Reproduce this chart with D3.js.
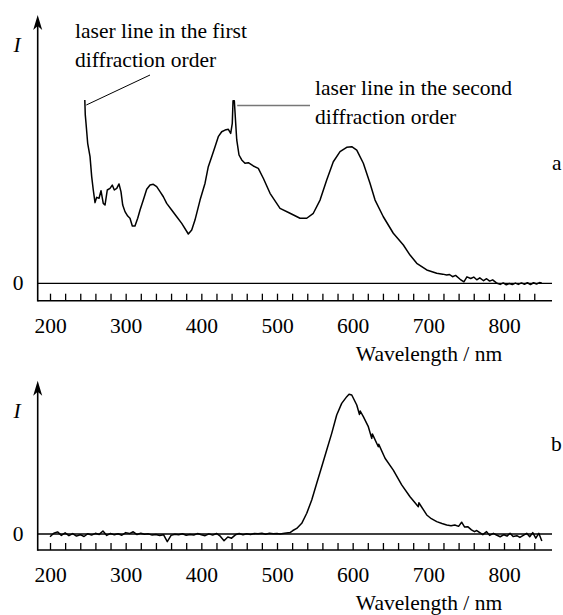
<!DOCTYPE html>
<html>
<head>
<meta charset="utf-8">
<script src="https://cdn.jsdelivr.net/npm/d3@7/dist/d3.min.js"></script>
<style>
  html, body { margin: 0; padding: 0; background: #fff; }
  svg { display: block; }
  text { font-family: "Liberation Serif", "Times New Roman", serif; fill: #000; }
</style>
</head>
<body>
<svg id="chart" width="563" height="615"></svg>
<script>
// ---------------- DATA ----------------
// Spectrum a (intensity, arbitrary units; 100 = top of first-order laser line)
const specA_nm = [246.0,246.6,247.6,249.8,252.9,255.1,257.2,259.5,261.7,264.8,267.4,270.4,272.7,275.7,279.3,282.3,285.0,288.2,291.2,293.8,296.1,299.1,302.7,305.7,308.8,312.3,315.9,319.0,323.3,327.8,332.2,336.5,341.0,345.4,349.8,354.2,360.8,367.5,374.1,382.8,387.3,391.6,398.3,404.9,409.2,413.7,418.1,422.4,426.9,431.3,435.7,438.8,440.9,441.9,443.6,445.4,446.8,449.8,453.4,457.7,462.1,468.7,475.3,481.9,490.8,504.0,517.2,530.4,539.3,548.0,556.9,565.7,574.4,583.3,592.1,598.8,605.4,614.1,622.9,629.6,640.5,653.7,667.0,675.8,684.7,697.9,711.1,719.0,724.3,728.0,732.0,736.0,742.0,747.0,751.0,756.0,760.0,764.0,768.0,773.0,777.0,781.0,785.0,790.0,795.0,799.0,803.0,807.0,811.0,815.0,819.0,823.0,827.0,831.0,835.0,839.0,843.0,847.0,850.0];
const specA_I  = [100,92,87.3,76.4,69.1,58.2,50.9,44.0,46.9,46.4,50.5,43.6,42.7,50.9,51.8,53.6,50.9,51.8,54.2,50.0,42.7,39.1,36.7,35.5,31.3,31.3,35.5,40.0,45.4,51.3,53.6,54.0,52.7,50.0,47.2,43.6,40.0,36.3,32.7,26.9,29.1,34.5,45.4,54.6,63.6,69.1,74.5,80.0,82.7,83.6,84.0,81.8,87.3,99.6,99.6,87.3,78.2,70.0,67.3,65.5,65.8,64.0,62.7,57.3,49.1,40.9,38.2,35.5,35.5,38.2,45.4,56.4,66.3,71.8,74.2,74.5,72.7,65.5,54.6,45.4,36.3,27.3,20.9,15.4,10.9,7.3,5.5,5.0,4.5,4.8,3.6,4.3,2.2,0.8,3.5,2.6,3.4,1.9,3.0,1.4,2.5,1.2,1.9,0.2,-0.6,0.2,-0.8,-0.1,-0.7,0.1,-0.6,0.2,-0.5,0.3,-0.7,0.3,-0.4,0.4,0.0];

// Spectrum b (intensity, arbitrary units; 100 = emission peak)
const specB_nm = [200,205,210,215,220,225,230,235,240,245,250,255,260,265,270,275,280,285,290,295,300,305,310,315,320,325,330,335,340,345,350,355,360,365,370,375,380,385,390,395,400,405,410,415,420,425,430,435,440,445,450,455,460,465,470,475,480,485,490,495,500,504.0,510.0,517.2,521.0,526.1,532.7,539.3,545.9,552.5,559.1,565.7,572.3,578.9,585.5,592.2,595.2,598.8,605.4,609.0,610.0,614.1,620.7,625.2,626.0,633.9,634.5,642.8,653.7,664.8,675.8,686.8,687.5,697.9,704.0,711.1,718.0,724.3,730.0,735.0,740.0,744.0,748.0,752.0,757.0,761.0,764.0,768.0,772.0,777.0,781.0,786.0,790.0,795.0,800.0,804.0,808.0,812.0,817.0,821.0,826.0,830.0,834.0,838.0,842.0,846.0,850.0];
const specB_I  = [-2,0.5,1.5,-1,0.8,-1.2,0.3,-1.5,-0.5,-1.8,0.2,-0.8,0.5,-0.3,2.2,-1.0,0.4,-0.6,0.2,-0.9,1.0,0.3,1.6,-0.4,0.6,-0.2,0.1,-0.8,-0.3,-1.1,-0.5,-5.5,-1.0,-0.2,-0.6,0.2,-0.9,-0.3,-0.7,0.3,-0.5,-1.2,0.1,-0.8,0.4,-1.6,-4.8,-2.2,-3.0,-0.6,0.3,-0.5,0.2,-0.3,0.4,0.1,0.6,-0.2,0.5,0.2,0.4,0.0,0.6,1.0,2.5,4.0,7.7,14.9,24.5,36.5,48.4,60.4,72.4,85.6,94.0,98.8,100.5,100.0,92.8,86.0,88.5,84.4,77.2,68.8,72.0,62.8,64.5,54.5,46.0,35.3,26.8,19.6,22.5,13.7,11.0,8.9,7.5,6.5,6.0,6.5,5.5,8.5,5.0,5.3,3.0,1.7,2.5,1.0,-0.5,1.7,-1.0,0.5,-0.7,-2.0,-0.5,-1.5,0.5,-1.8,-1.2,-2.5,-0.8,0.5,-2.0,1.0,-3.0,0.5,-5.0];

const tickValues = [200,220,240,260,280,300,320,340,360,380,400,420,440,460,480,500,520,540,560,580,600,620,640,660,680,700,720,740,760,780,800,820,840];
const tickLabels = [200,300,400,500,600,700,800];
const xTitle = "Wavelength / nm";
const yTitle = "I";
const zeroLabel = "0";
const noteFirst = ["laser line in the first", "diffraction order"];
const noteSecond = ["laser line in the second", "diffraction order"];
const panelLabels = ["a", "b"];

// ---------------- DRAW ----------------
const svg = d3.select("#chart");
const FS = 21.5;
const x = d3.scaleLinear().domain([200, 800]).range([50, 504]);
const axisX0 = 37.7, axisX1 = 552;

function panel(cfg) {
  const g = svg.append("g");
  const y = d3.scaleLinear().domain([0, 100]).range([cfg.zeroY, cfg.topY]);

  // x axis with upward ticks
  const ax = d3.axisBottom(x)
    .tickValues(tickValues)
    .tickSize(-7)
    .tickPadding(17)
    .tickFormat(d => tickLabels.includes(d) ? d : "");
  const axg = g.append("g").attr("transform", `translate(0,${cfg.axisY})`).call(ax);
  axg.attr("font-family", null).attr("font-size", null);
  axg.select(".domain").remove();
  axg.selectAll(".tick line").attr("stroke", "#000").attr("stroke-width", 1.3);
  axg.selectAll(".tick text")
    .style("font-family", "'Liberation Serif', serif")
    .style("font-size", FS + "px").attr("fill", "#000");

  // axis base line
  g.append("line").attr("x1", axisX0).attr("x2", axisX1)
    .attr("y1", cfg.axisY).attr("y2", cfg.axisY)
    .attr("stroke", "#000").attr("stroke-width", 1.6);
  // zero line
  g.append("line").attr("x1", axisX0).attr("x2", axisX1)
    .attr("y1", y(0)).attr("y2", y(0))
    .attr("stroke", "#000").attr("stroke-width", 1.3);
  // y axis with arrow
  g.append("line").attr("x1", axisX0).attr("x2", axisX0)
    .attr("y1", cfg.axisY + 0.8).attr("y2", cfg.arrowY + 6)
    .attr("stroke", "#000").attr("stroke-width", 1.6);
  g.append("path")
    .attr("d", `M${axisX0},${cfg.arrowY} L${axisX0 - 4.5},${cfg.arrowY + 15} L${axisX0},${cfg.arrowY + 11} L${axisX0 + 4.5},${cfg.arrowY + 15} Z`)
    .attr("fill", "#000");

  // labels
  g.append("text").attr("x", 17).attr("y", cfg.arrowY + 37)
    .attr("text-anchor", "middle").attr("font-style", "italic")
    .attr("font-size", FS).text(yTitle);
  g.append("text").attr("x", 18).attr("y", y(0) + 7)
    .attr("text-anchor", "middle").attr("font-size", FS).text(zeroLabel);
  g.append("text").attr("x", 429).attr("y", cfg.axisY + 60)
    .attr("text-anchor", "middle").attr("font-size", FS).text(xTitle);
  g.append("text").attr("x", cfg.panelX).attr("y", cfg.panelY)
    .attr("font-size", FS).text(cfg.panel);

  // spectrum
  const pts = cfg.nm.map((d, i) => [d, cfg.I[i]]);
  const line = d3.line().x(d => x(d[0])).y(d => y(d[1]));
  g.append("path").datum(pts).attr("d", line)
    .attr("fill", "none").attr("stroke", "#000")
    .attr("stroke-width", 1.5).attr("stroke-linejoin", "round");
  return { g, y };
}

const A = panel({ zeroY: 283.3, topY: 100, axisY: 300.7, arrowY: 15,
  nm: specA_nm, I: specA_I, panel: panelLabels[0], panelX: 552, panelY: 170 });
panel({ zeroY: 534, topY: 395, axisY: 550, arrowY: 380.7,
  nm: specB_nm, I: specB_I, panel: panelLabels[1], panelX: 551, panelY: 451 });

// annotations on panel a
svg.append("text").attr("x", 75).attr("y", 38).attr("font-size", FS).text(noteFirst[0]);
svg.append("text").attr("x", 75).attr("y", 67).attr("font-size", FS).text(noteFirst[1]);
svg.append("line").attr("x1", x(specA_nm[0]) + 1.5).attr("y1", A.y(specA_I[0]) + 5)
  .attr("x2", 150).attr("y2", 75).attr("stroke", "#000").attr("stroke-width", 1);

svg.append("text").attr("x", 315).attr("y", 95).attr("font-size", FS).text(noteSecond[0]);
svg.append("text").attr("x", 315).attr("y", 124).attr("font-size", FS).text(noteSecond[1]);
svg.append("line").attr("x1", x(445.4) + 1.5).attr("x2", 310)
  .attr("y1", 105.5).attr("y2", 105.5).attr("stroke", "#777").attr("stroke-width", 1.6);
</script>
</body>
</html>
